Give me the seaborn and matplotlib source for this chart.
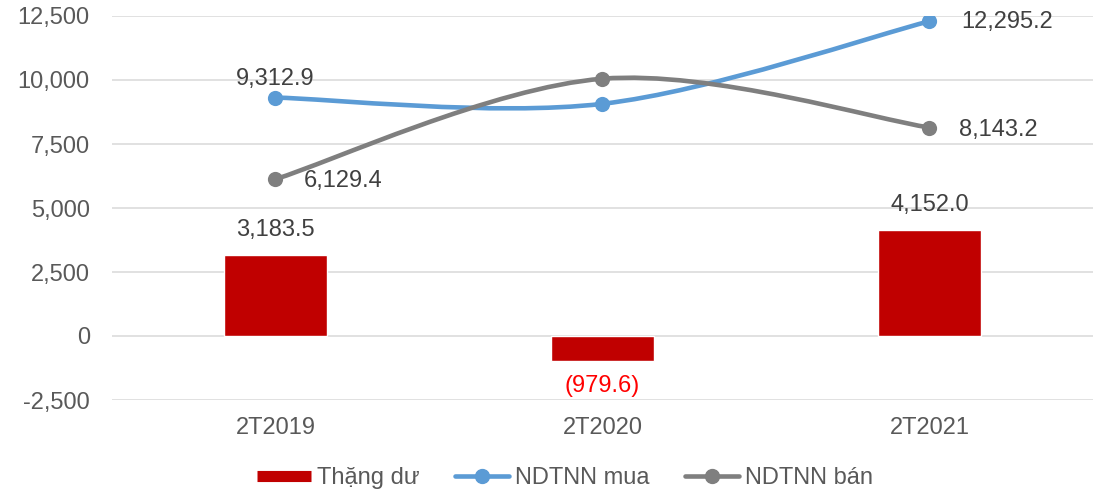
import numpy as np
import matplotlib
matplotlib.use('Agg')
import matplotlib.pyplot as plt
import seaborn as sns
from matplotlib.path import Path
from matplotlib.patches import PathPatch
from matplotlib.lines import Line2D
from matplotlib.ticker import FuncFormatter

# data
categories = ['2T2019', '2T2020', '2T2021']
thang_du = [3183.5, -979.6, 4152.0]
ndtnn_mua = [9312.9, 9070.0, 12295.2]
ndtnn_ban = [6129.4, 10049.6, 8143.2]
y_ticks = [-2500, 0, 2500, 5000, 7500, 10000, 12500]
series_names = ['Thặng dư', 'NDTNN mua', 'NDTNN bán']

RED = '#C00000'
BLUE = '#5B9BD5'
GREY = '#7F7F7F'
TICK_COLOR = '#595959'
LABEL_COLOR = '#404040'
FS = 17


def smooth_path(xs, ys):
    '''Excel-like smoothed line: Catmull-Rom segments as cubic Beziers.'''
    pts = np.column_stack([xs, ys]).astype(float)
    n = len(pts)
    verts = [pts[0]]
    codes = [Path.MOVETO]
    for i in range(n - 1):
        p0 = pts[max(i - 1, 0)]
        p1 = pts[i]
        p2 = pts[i + 1]
        p3 = pts[min(i + 2, n - 1)]
        verts += [p1 + (p2 - p0) / 6, p2 - (p3 - p1) / 6, p2]
        codes += [Path.CURVE4] * 3
    return Path(verts, codes)


def fmt_num(v):
    if v < 0:
        return f'({abs(v):,.1f})'
    return f'{v:,.1f}'


sns.set_style('white')
plt.rcParams['font.family'] = ['Liberation Sans', 'DejaVu Sans']

fig = plt.figure(figsize=(11.01, 4.94), dpi=100)
ax = fig.add_axes([112 / 1101, 1 - 400 / 494, 981 / 1101, 384 / 494])

sns.barplot(x=categories, y=thang_du, color=RED, saturation=1, width=0.314, ax=ax, zorder=2)

xpos = np.arange(len(categories))
for vals, col in [(ndtnn_mua, BLUE), (ndtnn_ban, GREY)]:
    ax.add_patch(PathPatch(smooth_path(xpos, vals), fill=False, edgecolor=col,
                           lw=3.3, capstyle='round', zorder=3))
    sns.scatterplot(x=xpos, y=vals, color=col, s=120, linewidth=0, zorder=4,
                    ax=ax, legend=False)

# data labels
for i, v in enumerate(thang_du):
    off = 25 if v >= 0 else -25
    ax.annotate(fmt_num(v), (xpos[i], v), xytext=(0, off), textcoords='offset pixels',
                ha='center', va='center', fontsize=FS,
                color=LABEL_COLOR if v >= 0 else '#FF0000')

line_labels = [
    (ndtnn_mua, 0, (0, 19), 'center'),
    (ndtnn_mua, 2, (32, -1), 'left'),
    (ndtnn_ban, 0, (28, -2), 'left'),
    (ndtnn_ban, 2, (30, -2), 'left'),
]
for vals, i, off, ha in line_labels:
    ax.annotate(fmt_num(vals[i]), (xpos[i], vals[i]), xytext=off, textcoords='offset pixels',
                ha=ha, va='center', fontsize=FS, color=LABEL_COLOR)

ax.set_xlim(-0.5, len(categories) - 0.5)
ax.set_ylim(y_ticks[0], y_ticks[-1])
ax.set_yticks(y_ticks)
ax.yaxis.set_major_formatter(FuncFormatter(lambda v, p: f'{v:,.0f}'))
ax.set_axisbelow(True)
ax.grid(axis='y', color='#D9D9D9', linewidth=1.1)
ax.grid(axis='x', visible=False)
sns.despine(ax=ax, left=True, bottom=True)
ax.tick_params(axis='both', length=0, labelsize=FS, colors=TICK_COLOR)
ax.tick_params(axis='y', pad=16)
ax.tick_params(axis='x', pad=12)

handles = [
    Line2D([0], [0], color=RED, lw=8, solid_capstyle='butt'),
    Line2D([0], [0], color=BLUE, lw=3.3, marker='o', markersize=10),
    Line2D([0], [0], color=GREY, lw=3.3, marker='o', markersize=10),
]
leg = fig.legend(handles, series_names, loc='center', bbox_to_anchor=(0.513, 0.032),
                 ncol=3, frameon=False, fontsize=FS, handlelength=2.3,
                 handletextpad=0.25, columnspacing=1.5)
for t in leg.get_texts():
    t.set_color(TICK_COLOR)

fig.savefig('out.png', dpi=100)
